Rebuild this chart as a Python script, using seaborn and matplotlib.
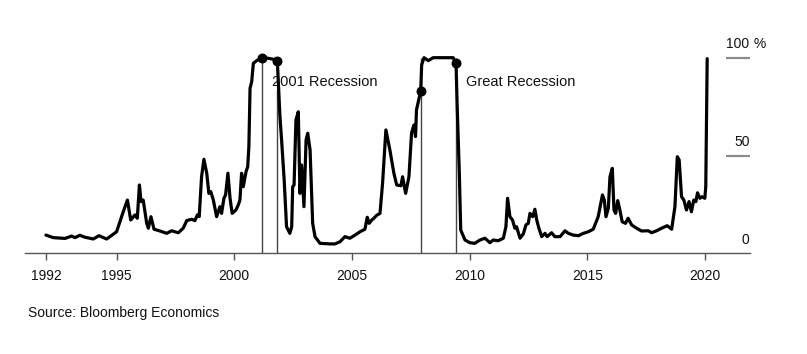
import matplotlib
matplotlib.use('Agg')
from matplotlib import pyplot as plt
from matplotlib import transforms
import pandas as pd
import numpy as np
import seaborn as sns

# recession probability (decimal year, percent)
years = [1992.0, 1992.31, 1992.81, 1993.09, 1993.23, 1993.44, 1993.66, 1994.01, 1994.25, 1994.58,
         1995.0, 1995.26, 1995.46, 1995.6, 1995.78, 1995.88, 1995.97, 1996.04, 1996.13, 1996.28,
         1996.35, 1996.46, 1996.59, 1996.84, 1997.13, 1997.34, 1997.62, 1997.83, 1997.98, 1998.19,
         1998.33, 1998.43, 1998.51, 1998.61, 1998.71, 1998.83, 1998.92, 1999.0, 1999.11, 1999.25,
         1999.39, 1999.46, 1999.56, 1999.63, 1999.73, 1999.82, 1999.91, 2000.07, 2000.17, 2000.24,
         2000.31, 2000.38, 2000.5, 2000.57, 2000.62, 2000.67, 2000.74, 2000.81, 2000.95, 2001.17,
         2001.44, 2001.66, 2001.83, 2001.91, 2001.94, 2002.01, 2002.12, 2002.22, 2002.36, 2002.44,
         2002.48, 2002.54, 2002.62, 2002.72, 2002.79, 2002.86, 2002.96, 2003.05, 2003.12, 2003.22,
         2003.33, 2003.43, 2003.64, 2004.06, 2004.28, 2004.49, 2004.7, 2004.91, 2005.13, 2005.34,
         2005.55, 2005.65, 2005.73, 2005.84, 2005.93, 2006.05, 2006.19, 2006.3, 2006.44, 2006.61,
         2006.78, 2006.9, 2007.08, 2007.15, 2007.28, 2007.42, 2007.53, 2007.63, 2007.7, 2007.74,
         2007.92, 2007.96, 2008.06, 2008.24, 2008.45, 2009.3, 2009.42, 2009.47, 2009.56, 2009.62,
         2009.8, 2010.01, 2010.22, 2010.44, 2010.65, 2010.86, 2011.0, 2011.21, 2011.43, 2011.54,
         2011.61, 2011.71, 2011.82, 2011.92, 2011.99, 2012.14, 2012.28, 2012.39, 2012.49, 2012.56,
         2012.68, 2012.77, 2012.85, 2012.94, 2013.06, 2013.2, 2013.29, 2013.48, 2013.62, 2013.84,
         2014.05, 2014.19, 2014.4, 2014.62, 2014.83, 2015.04, 2015.25, 2015.46, 2015.64, 2015.72,
         2015.79, 2015.89, 2015.96, 2016.06, 2016.13, 2016.2, 2016.29, 2016.38, 2016.48, 2016.62,
         2016.73, 2016.88, 2017.09, 2017.3, 2017.59, 2017.73, 2017.94, 2018.15, 2018.39, 2018.58,
         2018.72, 2018.82, 2018.9, 2019.0, 2019.1, 2019.21, 2019.32, 2019.42, 2019.52, 2019.61,
         2019.68, 2019.78, 2019.87, 2019.99, 2020.03, 2020.09]
probability = [9.4, 8.1, 7.7, 8.9, 8.1, 9.3, 8.3, 7.4, 9.1, 7.4,
               11.1, 20.5, 27.3, 17.1, 19.7, 18.0, 35.0, 26.5, 27.3, 15.4,
               12.9, 18.8, 12.4, 11.5, 10.3, 11.6, 10.6, 12.9, 16.8, 17.5,
               16.8, 19.7, 18.8, 39.2, 48.1, 41.0, 30.7, 31.6, 27.3, 18.8,
               23.9, 20.5, 28.2, 29.9, 41.0, 28.2, 20.5, 22.2, 24.8, 27.3,
               41.0, 34.1, 41.8, 44.3, 54.5, 84.4, 87.7, 97.1, 98.5, 100.0,
               99.7, 99.2, 98.2, 78.4, 69.9, 58.0, 37.5, 13.7, 10.3, 13.7,
               34.1, 35.0, 68.2, 72.4, 30.7, 45.2, 23.9, 58.0, 61.4, 52.9,
               15.4, 8.6, 5.2, 4.9, 4.9, 6.0, 8.6, 7.8, 9.4, 11.1,
               12.4, 18.5, 15.4, 17.1, 18.0, 19.5, 20.5, 35.9, 63.1, 52.9,
               41.0, 35.0, 34.6, 39.2, 30.7, 39.2, 61.4, 65.6, 59.7, 73.3,
               83.0, 96.3, 100.0, 98.5, 100.0, 100.0, 97.1, 75.0, 41.0, 12.0,
               6.9, 5.5, 5.2, 6.9, 7.8, 5.5, 6.9, 6.5, 7.8, 13.7,
               28.2, 18.8, 17.1, 12.9, 13.7, 7.8, 10.0, 14.6, 15.4, 20.5,
               18.8, 22.6, 17.1, 12.9, 8.6, 10.3, 8.6, 10.6, 8.6, 8.6,
               11.6, 10.3, 9.4, 9.1, 10.3, 11.1, 12.4, 18.8, 29.9, 27.3,
               18.8, 23.1, 39.2, 43.5, 22.2, 20.5, 27.0, 22.2, 16.2, 15.4,
               18.0, 14.6, 12.9, 11.5, 11.6, 10.6, 11.6, 12.9, 14.2, 12.4,
               23.9, 49.4, 47.8, 29.0, 27.3, 22.2, 26.5, 21.3, 27.3, 26.5,
               31.0, 28.2, 29.0, 28.2, 34.1, 99.5]

recession_names = ['2001 Recession', 'Great Recession']
recession_start = [2001.17, 2007.92]
recession_end = [2001.83, 2009.42]
label_x = [2001.6, 2009.84]
label_y = 87.5

x_ticks = [1992, 1995, 2000, 2005, 2010, 2015, 2020]
y_ticks = [0, 50, 100]
y_tick_labels = ['0', '50', '100']

df = pd.DataFrame({'year': years, 'probability': probability})

sns.set_style('white')
plt.rcParams['font.family'] = ['Liberation Sans', 'DejaVu Sans']

fig = plt.figure(figsize=(8.07, 3.54), dpi=100)
ax = fig.add_axes([0.031, 0.2839, 0.8984, 0.5808])

x_left, x_right = 1991.11, 2021.91
grid_start = 2020.89

# recession markers
for start, end in zip(recession_start, recession_end):
    ax.vlines([start, end], 0, 100, color='#444444', linewidth=1, zorder=1)

sns.lineplot(data=df, x='year', y='probability', color='black', linewidth=2.3, ax=ax, zorder=3)

dot_x = recession_start + recession_end
dot_y = np.interp(dot_x, years, probability)
ax.scatter(dot_x, dot_y, s=38, color='black', zorder=4)

for name, lx in zip(recession_names, label_x):
    ax.text(lx, label_y, name, fontsize=10.5, ha='left', va='center', color='#111111',
            bbox=dict(facecolor='white', edgecolor='none', pad=0.5), zorder=2)

# short gridlines on the right, labels above them
ax.hlines([v for v in y_ticks if v > 0], grid_start, x_right, color='#8c8c8c', linewidth=1.6)
offset = transforms.ScaledTranslation(0, 13.5 / 100, fig.dpi_scale_trans)
for v, lab in zip(y_ticks, y_tick_labels):
    ax.text(x_right - 0.02, v, lab, fontsize=10, ha='right', va='center', color='#111111',
            transform=ax.transData + offset, clip_on=False)
ax.text(x_right - 0.02, 100, ' %', fontsize=10, ha='left', va='center', color='#111111',
        transform=ax.transData + offset, clip_on=False)

ax.set_xlim(x_left, x_right)
ax.set_ylim(0, 105)
ax.set_xticks(x_ticks)
ax.set_xticklabels([str(t) for t in x_ticks])
ax.set_yticks([])
ax.set_xlabel('')
ax.set_ylabel('')
ax.tick_params(axis='x', direction='out', length=5, width=1, color='#555555',
               labelsize=10, labelcolor='#111111', pad=6, bottom=True)
for side in ['top', 'left', 'right']:
    ax.spines[side].set_visible(False)
ax.spines['bottom'].set_color('#555555')
ax.spines['bottom'].set_linewidth(1)

fig.text(0.0347, 0.1158, 'Source: Bloomberg Economics', fontsize=10, ha='left', va='center',
         color='#111111')

fig.savefig('out.png', dpi=100)
